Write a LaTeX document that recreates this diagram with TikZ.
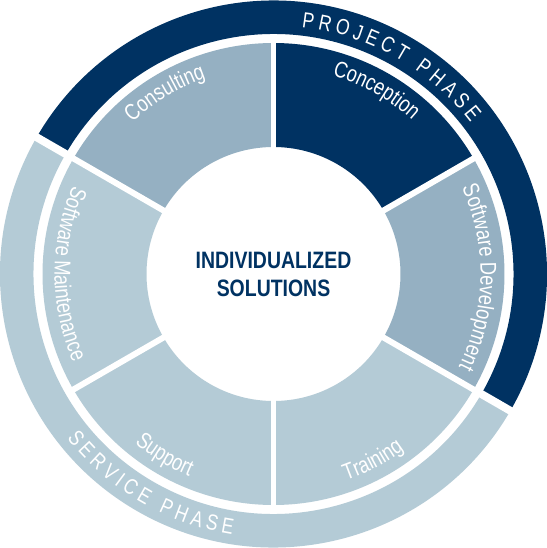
\documentclass[tikz,border=0pt]{standalone}
\usepackage{fontspec}
\usepackage{xcolor}
\usetikzlibrary{decorations.text}
\setmainfont{Liberation Sans}
\newfontfamily\labelfont{Liberation Sans}[FakeStretch=0.8]
\newfontfamily\titlefont{Liberation Sans}[FakeStretch=0.82]
\newcommand\lblfont{\labelfont\fontsize{13}{14}\selectfont}
\newcommand\phasefont{\labelfont\fontsize{12.5}{14}\selectfont}
\definecolor{navy}{RGB}{0,50,98}
\definecolor{steel}{RGB}{149,176,194}
\definecolor{pale}{RGB}{180,203,214}

\begin{document}
\begin{tikzpicture}[
  x=0.02cm, y=0.02cm,
  gap/.style={white, line width=3.4pt},
  ringgap/.style={white, line width=4.5pt},
  seclabel/.style={decorate, decoration={text along path, text align=center,
    text color=white, text={|\lblfont|#1}}},
  phaselabel/.style={decorate, decoration={text along path, text align=fit to path,
    text color=white, text={|\phasefont|#1}}}
]
\fill[white] (-273.5,-274) rectangle (273.5,274);
\useasboundingbox (-273.5,-274) rectangle (273.5,274);

% outer ring: project / service phase
\fill[navy] (-30:240) arc[start angle=-30, end angle=150, radius=240]
  -- (150:273.5) arc[start angle=150, end angle=-30, radius=273.5] -- cycle;
\fill[pale] (150:240) arc[start angle=150, end angle=330, radius=240]
  -- (330:273.5) arc[start angle=330, end angle=150, radius=273.5] -- cycle;
\draw[ringgap] (150:230) -- (150:285);
\draw[ringgap] (-30:230) -- (-30:285);

% six sectors
\foreach \a/\col in {30/navy, 90/steel, 150/pale, 210/pale, 270/pale, 330/steel}
  \fill[\col] (\a:127) arc[start angle=\a, end angle=\a+60, radius=127]
    -- (\a+60:231) arc[start angle=\a+60, end angle=\a, radius=231] -- cycle;
\foreach \a in {30,90,...,330}
  \draw[gap] (\a:120) -- (\a:236);

% sector labels
\path[seclabel=Consulting] (151:207) arc[start angle=151, end angle=91, radius=207];
\path[seclabel=Conception] (90.7:207) arc[start angle=90.7, end angle=30.7, radius=207];
\path[seclabel=Software Development] (29:207) arc[start angle=29, end angle=-31, radius=207];
\path[seclabel=Training] (-92:219) arc[start angle=-92, end angle=-32, radius=219];
\path[seclabel=Support] (209:219) arc[start angle=209, end angle=269, radius=219];
\path[seclabel=Software Maintenance] (150:219) arc[start angle=150, end angle=210, radius=219];

% phase labels
\path[phaselabel=PROJECT PHASE] (83.5:248.5) arc[start angle=83.5, end angle=37.5, radius=248.5];
\path[phaselabel=SERVICE PHASE] (218.5:264) arc[start angle=218.5, end angle=261, radius=264];

\node[align=center, text=navy, font=\titlefont\bfseries\fontsize{13.5}{15.9}\selectfont] (core) at (0,0) {INDIVIDUALIZED\\SOLUTIONS};
\end{tikzpicture}
\end{document}
